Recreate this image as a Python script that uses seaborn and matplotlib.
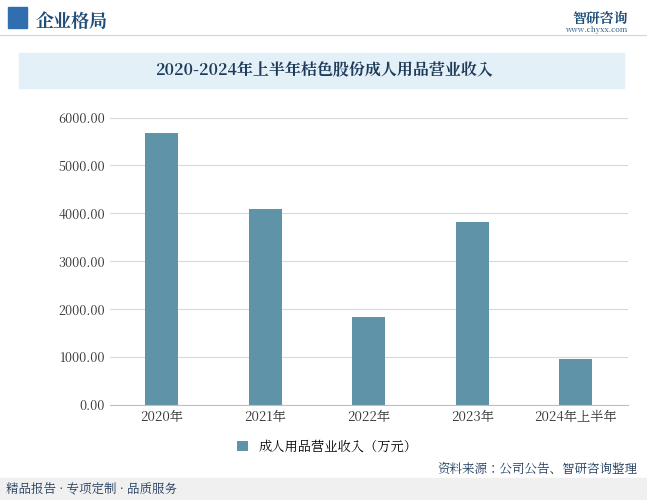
import matplotlib
matplotlib.use("Agg")
import matplotlib.pyplot as plt
from matplotlib import font_manager as fm
import seaborn as sns
import pandas as pd

categories = ["2020年", "2021年", "2022年", "2023年", "2024年上半年"]
values = [5670, 4090, 1840, 3820, 970]
yticks = [0, 1000, 2000, 3000, 4000, 5000, 6000]
series_name = "成人用品营业收入（万元）"

for f in fm.findSystemFonts():
    if "cjk" in f.lower():
        try:
            fm.fontManager.addfont(f)
        except Exception:
            pass
names = [f.name for f in fm.fontManager.ttflist if "CJK" in f.name]
fam = "Noto Sans CJK SC" if "Noto Sans CJK SC" in names else (names[0] if names else "DejaVu Sans")
plt.rcParams["font.family"] = [fam, "DejaVu Sans"]
plt.rcParams["axes.unicode_minus"] = False

fig = plt.figure(figsize=(6.47, 5.0), dpi=100)
fig.patch.set_facecolor("white")

fig.text(0.055, 0.975, "企业格局", fontsize=13, fontweight="bold", color="#1f4e79", va="top")
fig.add_artist(plt.Rectangle((0.012, 0.945), 0.03, 0.04, transform=fig.transFigure, color="#2f6fb0"))
fig.text(0.97, 0.978, "智研咨询", fontsize=10, color="#1f4e79", ha="right", va="top", fontweight="bold")
fig.text(0.97, 0.947, "www.chyxx.com", fontsize=5.5, color="#1f4e79", ha="right", va="top")
fig.add_artist(plt.Line2D([0, 1], [0.93, 0.93], transform=fig.transFigure, color="#c9d6e3", lw=0.8))

fig.add_artist(plt.Rectangle((0.03, 0.825), 0.935, 0.068, transform=fig.transFigure, color="#e3f0f8"))
fig.text(0.5, 0.859, "2020-2024年上半年桔色股份成人用品营业收入", fontsize=11.5, fontweight="bold",
         color="#1f3b5a", ha="center", va="center")

ax = fig.add_axes([0.17, 0.19, 0.80, 0.575])
df = pd.DataFrame({"cat": categories, "val": values})
sns.barplot(data=df, x="cat", y="val", color="#5f93a8", width=0.32, ax=ax, label=series_name, saturation=1)
ax.set_ylim(0, 6000)
ax.set_yticks(yticks)
ax.set_yticklabels([f"{v:.2f}" for v in yticks], fontsize=9, color="#333333")
ax.tick_params(axis="x", labelsize=9.5, colors="#333333", length=0)
ax.tick_params(axis="y", length=0)
ax.set_xlabel(""); ax.set_ylabel("")
ax.grid(axis="y", color="#d9d9d9", lw=0.8)
ax.set_axisbelow(True)
for s in ["top", "right", "left"]:
    ax.spines[s].set_visible(False)
ax.spines["bottom"].set_color("#bfbfbf")
ax.legend(loc="upper center", bbox_to_anchor=(0.42, -0.08), frameon=False, fontsize=9.5,
          handlelength=0.8, handleheight=0.8)

fig.add_artist(plt.Rectangle((0, 0), 1, 0.045, transform=fig.transFigure, color="#f0f0f0"))
fig.text(0.01, 0.022, "精品报告 · 专项定制 · 品质服务", fontsize=9, color="#1f3b5a", va="center")
fig.text(0.985, 0.062, "资料来源：公司公告、智研咨询整理", fontsize=9, color="#1f3b5a", ha="right", va="center")

fig.savefig("out.png", dpi=100)
